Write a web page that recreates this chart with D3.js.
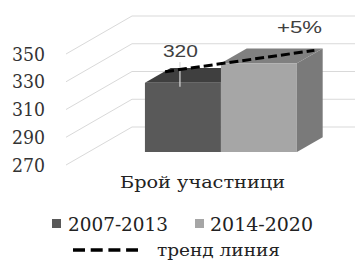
<!DOCTYPE html>
<html><head><meta charset="utf-8">
<script src="https://cdn.jsdelivr.net/npm/d3@7"></script>
<style>html,body{margin:0;padding:0;background:#fff;}svg{display:block;}</style>
</head><body>
<script>
const categories = ["Брой участници"];
const series = ["2007-2013", "2014-2020"];
const values = [320, 334];
const yTicks = [270, 290, 310, 330, 350];
const valueLabel = "320";
const growthLabel = "+5%";
const trendLabel = "тренд линия";
const colors = {front: ["#595959", "#a6a6a6"], top: ["#3f3f3f", "#808080"], side: ["#404040", "#7a7a7a"]};
const SERIF = "'DejaVu Serif', serif";
const SANS = "'Liberation Sans', Arial, 'DejaVu Sans', sans-serif";

const W = 355, H = 260;
const svg = d3.select("body").append("svg").attr("width", W).attr("height", H);
const DX = 66, DY = 38;           // full depth offset of the 3D box
const y = d3.scaleLinear().domain([270, 350]).range([165, 54]);
const x0 = d3.scaleBand().domain(categories).range([67, 330]);
const cx = x0(categories[0]) + x0.bandwidth() / 2;
const x1 = d3.scaleBand().domain(series).range([cx - 76, cx + 76]);
const P = (xx, v, z) => [xx + z * DX, y(v) - z * DY];
const zf = 0.34, zb = 0.73;       // bar front/back depth

// back wall gridlines
const grid = svg.append("g").attr("stroke", "#d9d9d9").attr("fill", "none").attr("stroke-width", 1);
yTicks.forEach(v => {
  const a = P(66, v, 0), b = P(66, v, 1);
  grid.append("path").attr("d", `M${a[0]},${a[1]}L${b[0]},${b[1]}L${W},${b[1]}`);
});

// y labels
svg.append("g").selectAll("text").data(yTicks).join("text")
  .attr("x", 12).attr("y", d => y(d) + 6.5)
  .style("font-family", SERIF).attr("font-size", 18)
  .attr("textLength", 33).attr("lengthAdjust", "spacingAndGlyphs")
  .attr("fill", "#333").text(d => d);

// bars
const poly = pts => "M" + pts.map(p => p.join(",")).join("L") + "Z";
series.forEach((s, i) => {
  const xl = x1(s), xr = xl + x1.bandwidth(), v = values[i];
  const g = svg.append("g");
  g.append("path").attr("fill", colors.side[i])
    .attr("d", poly([P(xr, 270, zf), P(xr, 270, zb), P(xr, v, zb), P(xr, v, zf)]));
  g.append("path").attr("fill", colors.top[i])
    .attr("d", poly([P(xl, v, zf), P(xl, v, zb), P(xr, v, zb), P(xr, v, zf)]));
  g.append("path").attr("fill", colors.front[i])
    .attr("d", poly([P(xl, 270, zf), P(xl, v, zf), P(xr, v, zf), P(xr, 270, zf)]));
});

// leader line + value label
const lx = x1(series[0]) + 35;
const lt = P(lx, values[0], zf);
svg.append("line").attr("x1", lt[0]).attr("x2", lt[0]).attr("y1", 62).attr("y2", lt[1] + 4)
  .attr("stroke", "#d9d9d9").attr("stroke-width", 1.2);
svg.append("text").attr("x", lt[0] - 17).attr("y", 57)
  .style("font-family", SANS).attr("font-size", 16)
  .attr("textLength", 35).attr("lengthAdjust", "spacingAndGlyphs")
  .attr("fill", "#404040").text(valueLabel);

// trend line
const t0 = P(x1(series[0]) + 1, values[0], 0.63);
const t1 = P(x1(series[1]) + x1.bandwidth() - 5, values[1], 0.68);
svg.append("line").attr("x1", t0[0]).attr("y1", t0[1]).attr("x2", t1[0]).attr("y2", t1[1])
  .attr("stroke", "#000").attr("stroke-width", 3).attr("stroke-dasharray", "9,4");

svg.append("text").attr("x", 277).attr("y", 33)
  .style("font-family", SANS).attr("font-size", 16)
  .attr("textLength", 45).attr("lengthAdjust", "spacingAndGlyphs")
  .attr("fill", "#404040").text(growthLabel);

// axis title
svg.append("text").attr("x", 120).attr("y", 188)
  .style("font-family", SERIF).attr("font-size", 16)
  .attr("textLength", 165).attr("lengthAdjust", "spacingAndGlyphs")
  .attr("fill", "#222").text(categories[0]);

// legend
const leg = [{sx: 52, tx: 68, tw: 100}, {sx: 195, tx: 210, tw: 103}];
series.forEach((s, i) => {
  svg.append("rect").attr("x", leg[i].sx).attr("y", 219).attr("width", 9).attr("height", 9).attr("fill", colors.front[i]);
  svg.append("text").attr("x", leg[i].tx).attr("y", 230.5)
    .style("font-family", SERIF).attr("font-size", 18)
    .attr("textLength", leg[i].tw).attr("lengthAdjust", "spacingAndGlyphs")
    .attr("fill", "#222").text(s);
});
svg.append("line").attr("x1", 73).attr("x2", 138).attr("y1", 250).attr("y2", 250)
  .attr("stroke", "#000").attr("stroke-width", 3.5).attr("stroke-dasharray", "12,5.7");
svg.append("text").attr("x", 157).attr("y", 256)
  .style("font-family", SERIF).attr("font-size", 16)
  .attr("textLength", 123).attr("lengthAdjust", "spacingAndGlyphs")
  .attr("fill", "#222").text(trendLabel);
</script>
</body></html>
